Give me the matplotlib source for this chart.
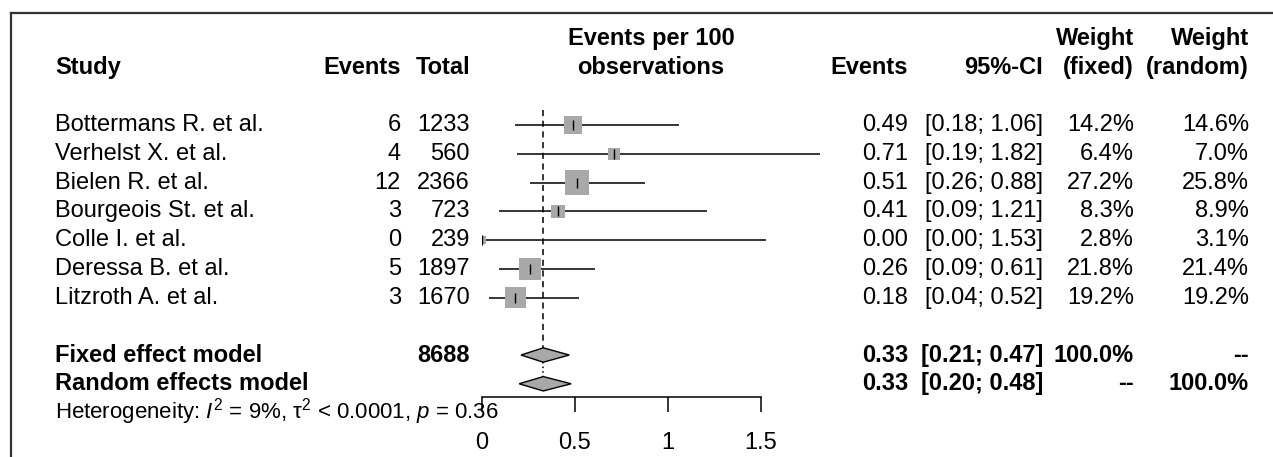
"""Forest plot: events per 100 observations"""

import matplotlib

matplotlib.use("Agg")
import matplotlib.pyplot as plt
import matplotlib.transforms as mtransforms
import numpy as np
from matplotlib.lines import Line2D
from matplotlib.patches import Polygon

plt.rcParams["font.family"] = ["Liberation Sans", "DejaVu Sans"]
plt.rcParams["mathtext.fontset"] = "custom"
plt.rcParams["mathtext.rm"] = "Liberation Sans"
plt.rcParams["mathtext.it"] = "Liberation Sans:italic"
plt.rcParams["mathtext.bf"] = "Liberation Sans:bold"

# data
studies = [
    "Bottermans R. et al.",
    "Verhelst X. et al.",
    "Bielen R. et al.",
    "Bourgeois St. et al.",
    "Colle I. et al.",
    "Deressa B. et al.",
    "Litzroth A. et al.",
]
events = [6, 4, 12, 3, 0, 5, 3]
totals = [1233, 560, 2366, 723, 239, 1897, 1670]
est = [0.49, 0.71, 0.51, 0.41, 0.00, 0.26, 0.18]
ci_low = [0.18, 0.19, 0.26, 0.09, 0.00, 0.09, 0.04]
ci_high = [1.06, 1.82, 0.88, 1.21, 1.53, 0.61, 0.52]
w_fixed = [14.2, 6.4, 27.2, 8.3, 2.8, 21.8, 19.2]
w_random = [14.6, 7.0, 25.8, 8.9, 3.1, 21.4, 19.2]

fixed_est, fixed_low, fixed_high = 0.33, 0.21, 0.47
random_est, random_low, random_high = 0.33, 0.20, 0.48
total_n = 8688
xticks = [0, 0.5, 1, 1.5]
het_text = r"Heterogeneity: $I^2$ = 9%, τ$^2$ < 0.0001, $p$ = 0.36"

FS = 17
FS_HET = 16
SQ_COL = "#a8a8a8"

W, H = 1273, 457
fig = plt.figure(figsize=(W / 100, H / 100), dpi=100)


def fx(px):
    return px / W


# forest panel: row 0 at y=125px, 28.75px per row, axis line at 397px
ax = fig.add_axes([fx(482), 60 / H, fx(338), 387 / H])
ax.set_xlim(0, 1.82)
ax.set_ylim(9.46, -4)
for side in ["top", "right", "left"]:
    ax.spines[side].set_visible(False)
ax.spines["bottom"].set_bounds(xticks[0], xticks[-1])
ax.spines["bottom"].set_linewidth(1.1)
ax.set_yticks([])
ax.set_xticks(xticks)
ax.set_xticklabels([f"{t:g}" for t in xticks])
ax.tick_params(axis="x", length=10.5, width=1.1, pad=15, labelsize=FS)
ax.patch.set_alpha(0)

rows = np.arange(len(studies))
fixed_row = len(studies) + 1
random_row = fixed_row + 1
het_row = random_row + 1

# CI lines, squares and estimate ticks
ax.hlines(rows, ci_low, ci_high, color="black", lw=1.1, zorder=2)
sides = 3.35 * np.sqrt(w_fixed)
ax.scatter(est, rows, s=sides**2, marker="s", color=SQ_COL, lw=0, zorder=3)
ax.scatter(est, rows, s=45, marker="|", color="black", lw=1.0, zorder=4)

# summary diamonds
dh = 0.25
for r, (e, lo, hi) in [
    (fixed_row, (fixed_est, fixed_low, fixed_high)),
    (random_row, (random_est, random_low, random_high)),
]:
    ax.add_patch(
        Polygon(
            [(lo, r), (e, r - dh), (hi, r), (e, r + dh)],
            closed=True,
            facecolor=SQ_COL,
            edgecolor="black",
            lw=1.0,
            zorder=3,
        )
    )

# reference lines at pooled estimates
ax.vlines(fixed_est, -0.52, fixed_row - dh, color="black", lw=1.1,
          linestyles=(0, (4, 3)), zorder=1)
ax.vlines(random_est, fixed_row + dh, random_row - dh, color="black", lw=1.1,
          linestyles=(0, (1, 2)), zorder=1)

# text columns: x in figure pixels, y in rows
tr = mtransforms.blended_transform_factory(fig.transFigure, ax.transData)


def put(px, row, s, ha="right", bold=False, size=FS):
    fig.text(fx(px), row, s, transform=tr, ha=ha, va="center",
             fontsize=size, fontweight="bold" if bold else "normal")


X_STUDY, X_EV, X_TOT = 55, 401, 470
X_EST, X_CI, X_WF, X_WR = 908, 1043, 1134, 1249

# header
put(X_STUDY, -2, "Study", ha="left", bold=True)
put(X_EV, -2, "Events", bold=True)
put(X_TOT, -2, "Total", bold=True)
ctr = mtransforms.blended_transform_factory(ax.transAxes, ax.transData)
ax.text(0.5, -3, "Events per 100", transform=ctr, ha="center", va="center",
        fontsize=FS, fontweight="bold")
ax.text(0.5, -2, "observations", transform=ctr, ha="center", va="center",
        fontsize=FS, fontweight="bold")
put(X_EST, -2, "Events", bold=True)
put(X_CI, -2, "95%-CI", bold=True)
put(X_WF, -3, "Weight", bold=True)
put(X_WF, -2, "(fixed)", bold=True)
put(X_WR, -3, "Weight", bold=True)
put(X_WR, -2, "(random)", bold=True)

# study rows
for i, name in enumerate(studies):
    put(X_STUDY, i, name, ha="left")
    put(X_EV, i, str(events[i]))
    put(X_TOT, i, str(totals[i]))
    put(X_EST, i, f"{est[i]:.2f}")
    put(X_CI, i, f"[{ci_low[i]:.2f}; {ci_high[i]:.2f}]")
    put(X_WF, i, f"{w_fixed[i]:.1f}%")
    put(X_WR, i, f"{w_random[i]:.1f}%")

# pooled rows
put(X_STUDY, fixed_row, "Fixed effect model", ha="left", bold=True)
put(X_TOT, fixed_row, str(total_n), bold=True)
put(X_EST, fixed_row, f"{fixed_est:.2f}", bold=True)
put(X_CI, fixed_row, f"[{fixed_low:.2f}; {fixed_high:.2f}]", bold=True)
put(X_WF, fixed_row, "100.0%", bold=True)
put(X_WR, fixed_row, "--", bold=True)

put(X_STUDY, random_row, "Random effects model", ha="left", bold=True)
put(X_EST, random_row, f"{random_est:.2f}", bold=True)
put(X_CI, random_row, f"[{random_low:.2f}; {random_high:.2f}]", bold=True)
put(X_WF, random_row, "--", bold=True)
put(X_WR, random_row, "100.0%", bold=True)

put(X_STUDY, het_row - 0.02, het_text, ha="left", size=FS_HET)

# frame of the original figure
fig.add_artist(Line2D([fx(11), 1], [1 - 13 / H] * 2, color="#333333", lw=1.6))
fig.add_artist(Line2D([fx(11)] * 2, [0, 1 - 13 / H], color="#333333", lw=1.6))

fig.savefig("out.png", dpi=100)
